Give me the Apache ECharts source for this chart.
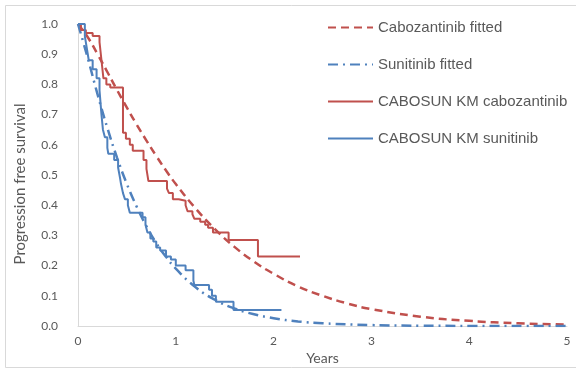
<!DOCTYPE html>
<html>
<head>
<meta charset="utf-8">
<script src="https://cdn.jsdelivr.net/npm/echarts@6/dist/echarts.min.js"></script>
<style>
  html, body { margin: 0; padding: 0; background: #ffffff; }
  #chart { width: 576px; height: 374px; }
</style>
</head>
<body>
<div id="chart"></div>
<script>
// Fitted progression-free survival curves: [years, survival]
const cabozantinibFitted = [
  [0, 1.0], [0.1, 0.956], [0.2, 0.90], [0.3, 0.841], [0.4, 0.781], [0.5, 0.723],
  [0.6, 0.667], [0.7, 0.614], [0.8, 0.563], [0.9, 0.515], [1.0, 0.47],
  [1.2, 0.39], [1.4, 0.321], [1.6, 0.262], [1.8, 0.213], [2.0, 0.173],
  [2.25, 0.131], [2.5, 0.10], [2.75, 0.075], [3.0, 0.056], [3.5, 0.031],
  [4.0, 0.017], [4.5, 0.009], [5.0, 0.005]
];
const sunitinibFitted = [
  [0, 1.0], [0.1, 0.887], [0.2, 0.767], [0.3, 0.656], [0.4, 0.557], [0.5, 0.47],
  [0.6, 0.395], [0.7, 0.33], [0.8, 0.275], [0.9, 0.229], [1.0, 0.19],
  [1.2, 0.129], [1.4, 0.087], [1.6, 0.058], [1.8, 0.039], [2.0, 0.026],
  [2.25, 0.015], [2.5, 0.009], [3.0, 0.003], [3.5, 0.001], [4.0, 0.0003], [5.0, 0]
];
// Kaplan-Meier estimates (value holds until the next time point)
const kmCabozantinib = [
  [0, 1.0], [0.03, 0.98], [0.08, 0.97], [0.15, 0.96], [0.22, 0.94], [0.24, 0.88],
  [0.26, 0.82], [0.29, 0.80], [0.33, 0.79], [0.46, 0.64], [0.49, 0.62],
  [0.53, 0.60], [0.56, 0.58], [0.67, 0.55], [0.70, 0.52], [0.72, 0.48],
  [0.91, 0.455], [0.93, 0.44], [0.97, 0.42], [1.03, 0.415], [1.10, 0.40],
  [1.12, 0.38], [1.17, 0.37], [1.19, 0.355], [1.25, 0.345], [1.30, 0.335],
  [1.33, 0.325], [1.38, 0.31], [1.54, 0.285], [1.84, 0.23], [2.27, 0.23]
];
const kmSunitinib = [
  [0, 1.0], [0.07, 0.96], [0.09, 0.92], [0.11, 0.88], [0.15, 0.85], [0.19, 0.82],
  [0.22, 0.78], [0.24, 0.70], [0.255, 0.65], [0.275, 0.625], [0.30, 0.59],
  [0.31, 0.57], [0.37, 0.55], [0.41, 0.525], [0.43, 0.49], [0.44, 0.47],
  [0.46, 0.44], [0.48, 0.42], [0.51, 0.40], [0.53, 0.375], [0.66, 0.36],
  [0.69, 0.335], [0.71, 0.31], [0.74, 0.29], [0.77, 0.28], [0.80, 0.26],
  [0.84, 0.25], [0.90, 0.23], [0.95, 0.22], [1.0, 0.20], [1.1, 0.185],
  [1.18, 0.15], [1.19, 0.136], [1.34, 0.12], [1.37, 0.10], [1.41, 0.08],
  [1.59, 0.053], [2.08, 0.053]
];
const seriesNames = [
  'Cabozantinib fitted', 'Sunitinib fitted',
  'CABOSUN KM cabozantinib', 'CABOSUN KM sunitinib'
];
const yAxisTitle = 'Progression free survival';

const red = '#c0504d';
const blue = '#4f81bd';
const labelFont = 'Lato, "Open Sans", sans-serif';
const legendFont = '"Liberation Sans", Arial, sans-serif';

const chart = echarts.init(document.getElementById('chart'), null, { renderer: 'canvas' });
chart.setOption({
  animation: false,
  backgroundColor: '#ffffff',
  graphic: [
    {
      type: 'rect',
      shape: { x: 5.5, y: 5.5, width: 575, height: 362 },
      style: { fill: 'none', stroke: '#d9d9d9', lineWidth: 1 },
      silent: true, z: -10
    },
    {
      // vertical axis title, rotated
      type: 'text',
      x: 20, y: 184,
      rotation: Math.PI / 2,
      style: {
        text: yAxisTitle,
        fontFamily: labelFont, fontSize: 15, fill: '#595959',
        align: 'center', verticalAlign: 'middle'
      },
      silent: true
    }
  ],
  grid: { left: 78, right: 9, top: 24, bottom: 48 },
  legend: {
    orient: 'vertical',
    left: 322,
    top: 15,
    itemWidth: 45,
    itemHeight: 12,
    itemGap: 22,
    data: seriesNames,
    itemStyle: { opacity: 0 },
    textStyle: { fontFamily: legendFont, fontSize: 15, color: '#595959' }
  },
  xAxis: {
    type: 'value',
    min: 0, max: 5, interval: 1,
    name: 'Years',
    nameLocation: 'middle',
    nameGap: 24,
    nameTextStyle: { fontFamily: labelFont, fontSize: 14, color: '#595959' },
    axisLine: { show: true, lineStyle: { color: '#d9d9d9', width: 1 } },
    axisTick: { show: false },
    splitLine: { show: false },
    axisLabel: { fontFamily: labelFont, fontSize: 12, color: '#595959', margin: 9 }
  },
  yAxis: {
    type: 'value',
    min: 0, max: 1, interval: 0.1,
    axisLine: { show: true, lineStyle: { color: '#d9d9d9', width: 1 } },
    axisTick: { show: false },
    splitLine: { show: false },
    axisLabel: {
      fontFamily: labelFont, fontSize: 12, color: '#595959', margin: 20,
      formatter: v => v.toFixed(1)
    }
  },
  series: [
    {
      name: seriesNames[0], type: 'line', data: cabozantinibFitted,
      smooth: true, symbol: 'none', z: 2,
      lineStyle: { color: red, width: 2.5, type: [8, 5] },
      itemStyle: { color: red }
    },
    {
      name: seriesNames[1], type: 'line', data: sunitinibFitted,
      smooth: true, symbol: 'none', z: 2,
      lineStyle: { color: blue, width: 2.5, type: [10, 5, 2, 5] },
      itemStyle: { color: blue }
    },
    {
      name: seriesNames[2], type: 'line', data: kmCabozantinib,
      step: 'end', symbol: 'none', z: 3,
      lineStyle: { color: red, width: 2 },
      itemStyle: { color: red }
    },
    {
      name: seriesNames[3], type: 'line', data: kmSunitinib,
      step: 'end', symbol: 'none', z: 3,
      lineStyle: { color: blue, width: 2 },
      itemStyle: { color: blue }
    }
  ]
});
</script>
</body>
</html>
